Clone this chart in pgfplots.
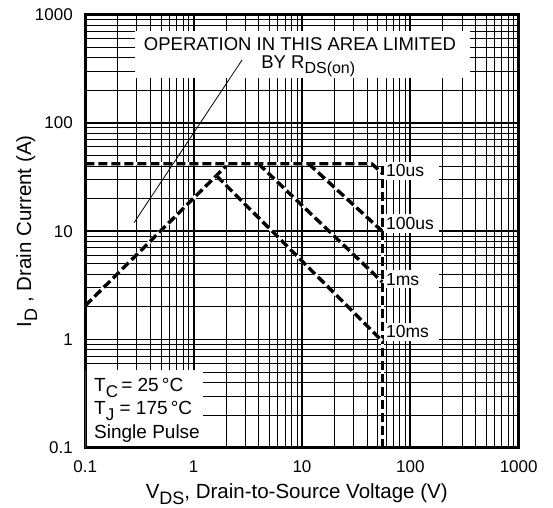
\documentclass[border=0pt]{standalone}
\usepackage{pgfplots}
\pgfplotsset{compat=1.18}
\usepackage{fontspec}
\setmainfont{Liberation Sans}
\newcommand{\sub}[2]{\raisebox{-0.3em}{\fontsize{#1}{#1}\selectfont #2}}
% white underlay so that the gaps of the dashes hide the grid
\pgfplotsset{
  soa white/.style={white, line width=3.4bp, forget plot},
  soa/.style={black, line width=3.4bp, dash pattern=on 9bp off 4bp, forget plot},
}
\tikzset{
  pulse/.style={fill=white, anchor=west, inner xsep=2.5bp, inner ysep=3bp, text width=50bp,
        font=\fontsize{17.5bp}{20bp}\selectfont},
  cond/.style={anchor=base west, inner sep=0pt, font=\fontsize{19bp}{22bp}\selectfont},
}
\begin{document}
\begin{tikzpicture}
\begin{axis}[
  xmode=log, ymode=log,
  scale only axis,
  width=433.4bp, height=433bp,
  xmin=0.1, xmax=1000, ymin=0.1, ymax=1000,
  xtick={0.1,1,10,100,1000},
  xticklabels={0.1,1,10,100,1000},
  ytick={0.1,1,10,100,1000},
  yticklabels={0.1,1,10,100,1000},
  minor xtick={0.2,0.3,0.4,0.5,0.6,0.7,0.8,0.9,2,3,4,5,6,7,8,9,20,30,40,50,60,70,80,90,200,300,400,500,600,700,800,900},
  minor ytick={0.2,0.3,0.4,0.5,0.6,0.7,0.8,0.9,2,3,4,5,6,7,8,9,20,30,40,50,60,70,80,90,200,300,400,500,600,700,800,900},
  grid=both,
  major grid style={line width=1.8bp, black},
  minor grid style={line width=1bp, black},
  major tick length=0pt, minor tick length=0pt,
  axis line style={line width=3bp},
  /pgf/number format/assume math mode=true,
  xticklabel style={font=\fontsize{17bp}{20bp}\selectfont, anchor=center, yshift=-19bp},
  yticklabel style={font=\fontsize{17bp}{20bp}\selectfont, anchor=east, inner sep=0pt, xshift=-12.3bp},
  xlabel={V\sub{18bp}{DS}, Drain-to-Source Voltage (V)},
  ylabel={I\sub{18bp}{D} , Drain Current (A)},
  label style={font=\fontsize{20.5bp}{24bp}\selectfont},
  xlabel style={at={(axis description cs:0.4878,-0.1169)}, anchor=base},
  ylabel style={at={(axis description cs:-0.1352,0.5)}, anchor=center},
]
% R_DS(on) limit
\addplot[soa white] coordinates {(0.1,2.05) (2.09,42)};
\addplot[soa] coordinates {(0.1,2.05) (2.09,42)};
% 10us and current limit
\addplot[soa white] coordinates {(0.1,42) (44,42) (55,34.4)};
\addplot[soa] coordinates {(0.1,42) (44,42) (55,34.4)};
% voltage limit
\addplot[soa white] coordinates {(55,40) (55,0.1)};
\addplot[soa] coordinates {(55,40) (55,0.1)};
% 100us
\addplot[soa white] coordinates {(11.5,42) (55,10)};
\addplot[soa] coordinates {(11.5,42) (55,10)};
% 1ms
\addplot[soa white] coordinates {(3.96,42) (55,3.4)};
\addplot[soa] coordinates {(3.96,42) (55,3.4)};
% 10ms
\addplot[soa white] coordinates {(1.63,32.4) (55,0.97)};
\addplot[soa] coordinates {(1.63,32.4) (55,0.97)};

% annotation
\fill[white] (rel axis cs:0.1147,0.8531) rectangle (rel axis cs:0.8876,0.9624);
\node[font=\fontsize{18.5bp}{22bp}\selectfont, inner sep=0pt] at (rel axis cs:0.4954,0.9316) {OPERATION IN THIS AREA LIMITED};
\node[font=\fontsize{18.5bp}{22bp}\selectfont, inner sep=0pt, anchor=base] at (rel axis cs:0.5145,0.8762) {BY R\sub{16bp}{DS(on)}};
\draw[line width=0.8bp] (axis cs:0.282,12) -- (axis cs:2.80,382);

% pulse labels
\node[pulse] at (rel axis cs:0.688,0.6397) {10us};
\node[pulse] at (rel axis cs:0.688,0.5182) {100us};
\node[pulse] at (rel axis cs:0.688,0.3889) {1ms};
\node[pulse] at (rel axis cs:0.688,0.2679) {10ms};

% conditions box
\fill[white] (rel axis cs:0,0) rectangle (rel axis cs:0.2723,0.1794);
\node[cond] at (rel axis cs:0.0201,0.1293) {T\sub{17bp}{C}\,= 25\,\textdegree C};
\node[cond] at (rel axis cs:0.0201,0.0771) {T\sub{17bp}{J} = 175\,\textdegree C};
\node[cond] at (rel axis cs:0.0201,0.0217) {Single Pulse};

% frame on top
\draw[line width=3bp] (rel axis cs:0,0) rectangle (rel axis cs:1,1);
\end{axis}
\pgfresetboundingbox
\path[use as bounding box] ([shift={(-85.3bp,-60.3bp)}]current axis.south west) rectangle ++(553bp,508bp);
\end{tikzpicture}
\end{document}
